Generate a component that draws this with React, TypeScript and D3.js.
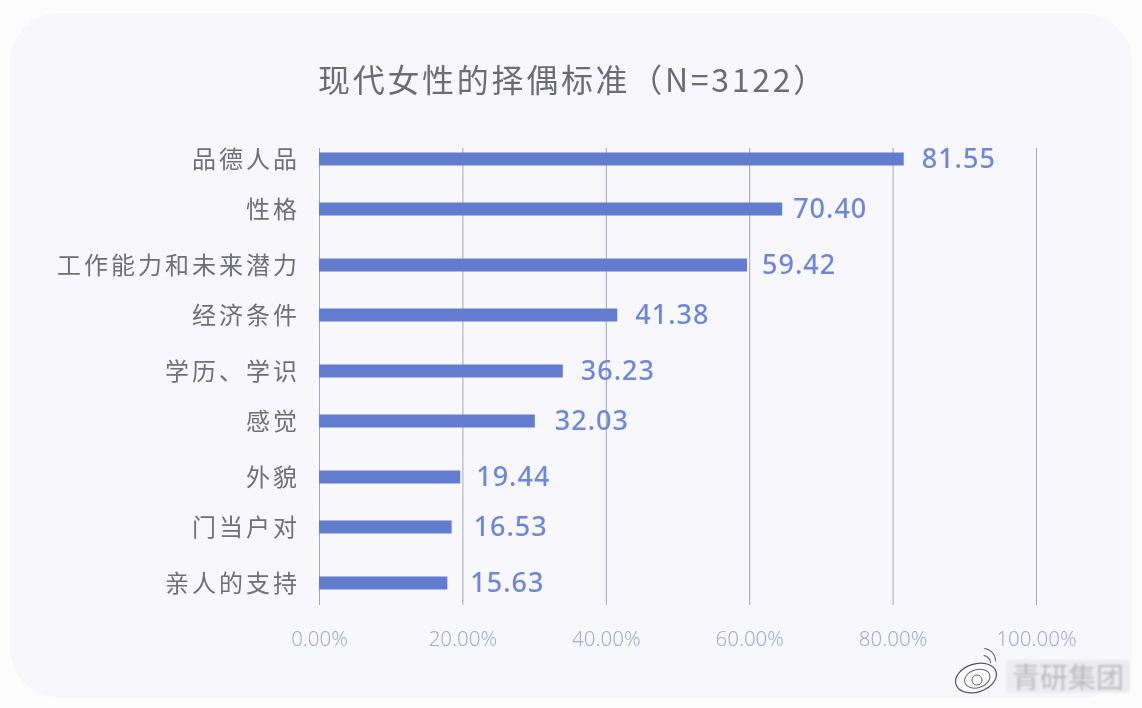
import { useEffect, useRef } from 'react';
import * as d3 from 'd3';

const categories = ['品德人品', '性格', '工作能力和未来潜力', '经济条件', '学历、学识', '感觉', '外貌', '门当户对', '亲人的支持'];
// printed numbers
const values = [81.55, 70.4, 59.42, 41.38, 36.23, 32.03, 19.44, 16.53, 15.63];
// bar lengths as drawn in the source, they do not quite follow the printed numbers
const barLengths = [81.55, 64.6, 59.7, 41.6, 34.0, 30.1, 19.7, 18.5, 17.9];
const xTicks = [0, 20, 40, 60, 80, 100];
const titleText = '现代女性的择偶标准（N=3122）';
const watermarkText = '青研集团';

const FONT = '"Noto Sans CJK SC", "Noto Sans", sans-serif';

export default function App() {
  const svgRef = useRef<SVGSVGElement>(null);

  useEffect(() => {
    if (!svgRef.current) return;
    document.body.style.margin = '0';

    const svg = d3.select(svgRef.current);
    svg.selectAll('*').remove();

    const width = 1142;
    const height = 708;
    const barHeight = 13;
    const labelGaps = [18, 11, 15, 18, 18, 20, 16, 22, 23];

    const defs = svg.append('defs');
    defs.append('filter').attr('id', 'soft').append('feGaussianBlur').attr('stdDeviation', 0.45);
    defs.append('filter').attr('id', 'softer').append('feGaussianBlur').attr('stdDeviation', 0.9);

    // background + card
    svg.append('rect').attr('width', width).attr('height', height).attr('fill', '#fdfdfe');
    svg.append('rect')
      .attr('x', 10).attr('y', 13)
      .attr('width', 1122).attr('height', 685)
      .attr('rx', 50).attr('ry', 50)
      .attr('fill', '#f7f7fc');

    const root = svg.append('g').attr('filter', 'url(#soft)').style('font-family', FONT);

    const x = d3.scaleLinear().domain([0, 100]).range([319, 1036]);
    const y = d3.scalePoint<string>().domain(categories).range([159, 583]);
    // rows in the source are unevenly spaced, every second one sits a little higher
    const rowY = (d: string) => (y(d) as number) + (categories.indexOf(d) % 2 ? -3 : 0);

    // title
    root.append('text')
      .attr('x', 318).attr('y', 92)
      .attr('fill', '#6c6c74')
      .style('font-size', '32px')
      .style('font-weight', 400)
      .style('letter-spacing', '2.7px')
      .text(titleText);

    // grid
    const grid = root.append('g')
      .attr('transform', 'translate(0,605)')
      .call(d3.axisBottom(x).tickValues(xTicks).tickSize(-457).tickFormat(() => ''));
    grid.select('.domain').remove();
    grid.selectAll('line').attr('stroke', '#a4a6b6').attr('stroke-width', 1);

    // x labels
    const xAxis = root.append('g')
      .attr('transform', 'translate(0,605)')
      .call(d3.axisBottom(x).tickValues(xTicks).tickSize(0).tickPadding(0).tickFormat((d) => `${Number(d).toFixed(2)}%`));
    xAxis.select('.domain').remove();
    xAxis.selectAll('text')
      .attr('y', 26)
      .attr('dy', '0.71em')
      .attr('fill', '#a7abd6')
      .style('font-family', '"Noto Sans", sans-serif')
      .style('font-size', '20.5px')
      .style('font-weight', 300);

    // category labels
    const yAxis = root.append('g')
      .attr('transform', 'translate(300,1)')
      .call(d3.axisLeft(y).tickSize(0).tickPadding(0));
    yAxis.select('.domain').remove();
    yAxis.selectAll('.tick').attr('transform', (d) => `translate(0,${rowY(d as string)})`);
    yAxis.selectAll('text')
      .attr('fill', '#6f6f77')
      .style('font-family', FONT)
      .style('font-size', '24px')
      .style('font-weight', 400)
      .style('letter-spacing', '3px');

    // bars
    root.selectAll('.bar')
      .data(categories)
      .enter()
      .append('rect')
      .attr('class', 'bar')
      .attr('x', x(0))
      .attr('y', (d) => rowY(d) - barHeight / 2)
      .attr('width', (d, i) => x(barLengths[i]) - x(0))
      .attr('height', barHeight)
      .attr('fill', '#647ccf');

    // value labels
    root.selectAll('.value-label')
      .data(categories)
      .enter()
      .append('text')
      .attr('class', 'value-label')
      .attr('x', (d, i) => x(barLengths[i]) + labelGaps[i])
      .attr('y', (d) => rowY(d) - 1)
      .attr('dy', '0.36em')
      .attr('fill', '#6e88d8')
      .style('font-family', '"Noto Sans", sans-serif')
      .style('font-size', '27px')
      .style('font-weight', 500)
      .style('letter-spacing', '1px')
      .text((d, i) => values[i].toFixed(2));

    // watermark
    const mark = svg.append('g').attr('transform', 'translate(976,678)');
    mark.append('ellipse').attr('rx', 21).attr('ry', 14).attr('transform', 'rotate(-18)')
      .attr('fill', '#fbfbfd').attr('stroke', '#55555a').attr('stroke-width', 1.2);
    mark.append('ellipse').attr('cx', 1).attr('cy', 1).attr('rx', 13).attr('ry', 9).attr('transform', 'rotate(-18)')
      .attr('fill', 'none').attr('stroke', '#66666c').attr('stroke-width', 1);
    mark.append('circle').attr('cx', 1).attr('cy', 2).attr('r', 5)
      .attr('fill', 'none').attr('stroke', '#66666c').attr('stroke-width', 1);
    mark.append('path').attr('d', d3.arc()({ innerRadius: 12, outerRadius: 13, startAngle: 0.1, endAngle: 1.6 }) as string)
      .attr('transform', 'translate(7,-17)').attr('fill', '#55555a');
    mark.append('path').attr('d', d3.arc()({ innerRadius: 7, outerRadius: 8, startAngle: 0.1, endAngle: 1.6 }) as string)
      .attr('transform', 'translate(7,-15)').attr('fill', '#55555a');

    svg.append('rect')
      .attr('x', 1006).attr('y', 660)
      .attr('width', 124).attr('height', 33)
      .attr('rx', 4)
      .attr('fill', '#ececef')
      .attr('filter', 'url(#softer)');
    svg.append('text')
      .attr('x', 1012).attr('y', 688)
      .attr('fill', '#bcbcc0')
      .attr('filter', 'url(#softer)')
      .style('font-family', FONT)
      .style('font-size', '28px')
      .text(watermarkText);
  }, []);

  return <svg ref={svgRef} width={1142} height={708} style={{ display: 'block' }}></svg>;
}
